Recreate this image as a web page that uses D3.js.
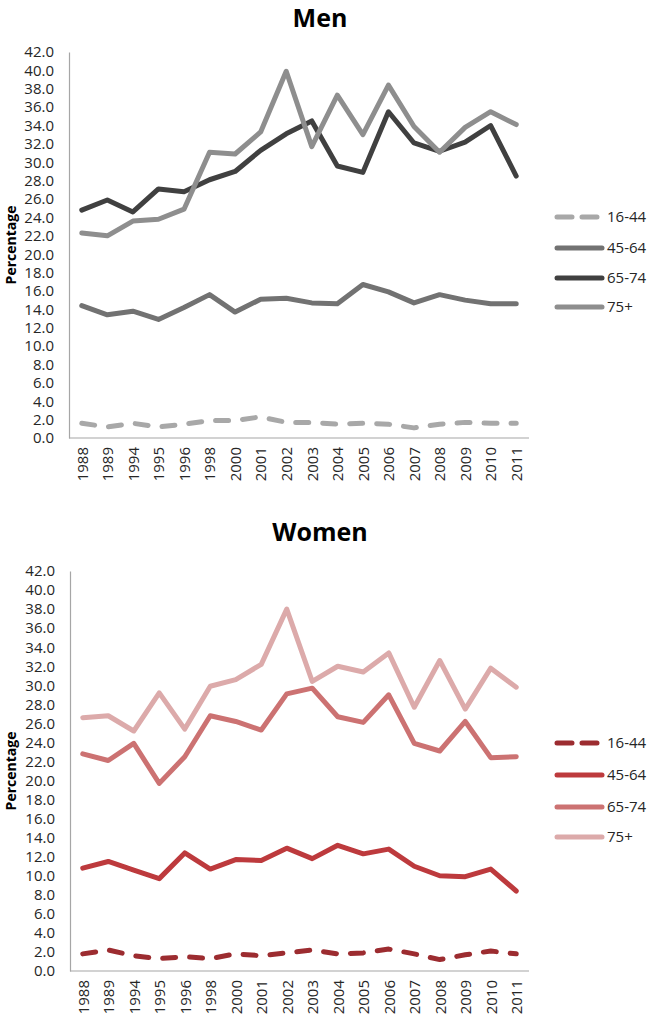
<!DOCTYPE html>
<html>
<head>
<meta charset="utf-8">
<script src="https://cdn.jsdelivr.net/npm/d3@7"></script>
<style>
  html, body { margin: 0; padding: 0; background: #fff; }
  svg { display: block; font-family: "Open Sans", "Liberation Sans", sans-serif; }
</style>
</head>
<body>
<svg id="chart" width="650" height="1019"></svg>
<script>
const years = ["1988","1989","1994","1995","1996","1998","2000","2001","2002","2003","2004","2005","2006","2007","2008","2009","2010","2011"];
const seriesNames = ["16-44","45-64","65-74","75+"];
const yTicks = [0,2,4,6,8,10,12,14,16,18,20,22,24,26,28,30,32,34,36,38,40,42];

// Men
const men_16_44 = [1.6,1.2,1.6,1.2,1.5,1.9,1.9,2.3,1.7,1.7,1.5,1.6,1.5,1.1,1.5,1.7,1.6,1.6];
const men_45_64 = [14.4,13.4,13.8,12.9,14.2,15.6,13.7,15.1,15.2,14.7,14.6,16.7,15.9,14.7,15.6,15.0,14.6,14.6];
const men_65_74 = [24.8,25.9,24.6,27.1,26.8,28.1,29.0,31.3,33.1,34.5,29.6,28.9,35.5,32.1,31.2,32.2,34.0,28.5];
const men_75p   = [22.3,22.0,23.6,23.8,24.9,31.1,30.9,33.3,39.9,31.7,37.3,33.0,38.4,33.9,31.1,33.8,35.5,34.1];

// Women
const women_16_44 = [1.8,2.2,1.6,1.3,1.5,1.3,1.8,1.6,1.9,2.2,1.8,1.9,2.3,1.8,1.2,1.7,2.1,1.8];
const women_45_64 = [10.8,11.5,10.6,9.7,12.4,10.7,11.7,11.6,12.9,11.8,13.2,12.3,12.8,11.0,10.0,9.9,10.7,8.4];
const women_65_74 = [22.8,22.1,23.9,19.7,22.5,26.8,26.2,25.3,29.1,29.7,26.7,26.1,29.0,23.9,23.1,26.2,22.4,22.5];
const women_75p   = [26.6,26.8,25.2,29.2,25.4,29.9,30.6,32.2,38.0,30.4,32.0,31.4,33.4,27.7,32.6,27.5,31.8,29.8];

const menColors   = ["#a8a8a8","#727272","#404040","#8e8e8e"];
const womenColors = ["#9c2c30","#bd3a3d","#cc7272","#dcaaaa"];

const svg = d3.select("#chart");

function drawPanel(opt) {
  const g = svg.append("g");
  const x = d3.scalePoint().domain(years).range([opt.left, opt.right]).padding(0.5);
  const y = d3.scaleLinear().domain([0, 42]).range([opt.bottom, opt.top]);

  // title
  g.append("text").attr("x", 320).attr("y", opt.titleY)
    .attr("text-anchor", "middle").attr("font-size", 25).attr("font-weight", "bold")
    .attr("fill", "#000").text(opt.title);

  // y axis
  const ya = g.append("g").attr("transform", `translate(${opt.left},0)`)
    .call(d3.axisLeft(y).tickValues(yTicks).tickFormat(d3.format(".1f")).tickSize(0).tickPadding(15));
  ya.select(".domain").attr("stroke", "#a6a6a6").attr("stroke-width", 1.2);
  ya.selectAll("text").attr("font-size", 15).attr("fill", "#262626")
    .attr("font-family", "'Open Sans', sans-serif");

  // x axis
  const xa = g.append("g").attr("transform", `translate(0,${opt.bottom})`)
    .call(d3.axisBottom(x).tickSize(0).tickPadding(0));
  xa.select(".domain").attr("stroke", "#a6a6a6").attr("stroke-width", 1.2)
    .attr("d", `M${opt.left},0H${opt.right}`);
  xa.selectAll("text").attr("font-size", 15).attr("fill", "#262626")
    .attr("font-family", "'Open Sans', sans-serif")
    .attr("text-anchor", "end").attr("dy", "0.35em")
    .attr("transform", "translate(0,9) rotate(-90)").attr("x", 0).attr("y", 0);

  // y label
  g.append("text")
    .attr("transform", `translate(16,${(opt.top + opt.bottom) / 2}) rotate(-90)`)
    .attr("text-anchor", "middle").attr("font-size", 14).attr("font-weight", "bold")
    .attr("fill", "#000").text("Percentage");

  const line = d3.line().x((d, i) => x(years[i])).y(d => y(d));

  opt.series.forEach((vals, k) => {
    g.append("path").datum(vals)
      .attr("d", line)
      .attr("fill", "none")
      .attr("stroke", opt.colors[k])
      .attr("stroke-width", 5)
      .attr("stroke-linejoin", "round")
      .attr("stroke-linecap", "round")
      .attr("stroke-dasharray", k === 0 ? "13,14" : null);
  });

  // legend
  seriesNames.forEach((name, k) => {
    const ly = opt.legendY[k];
    g.append("line")
      .attr("x1", 557).attr("x2", 602).attr("y1", ly).attr("y2", ly)
      .attr("stroke", opt.colors[k]).attr("stroke-width", 5)
      .attr("stroke-linecap", "round")
      .attr("stroke-dasharray", k === 0 ? "15,10" : null);
    g.append("text").attr("x", 607).attr("y", ly).attr("dy", "0.35em")
      .attr("font-size", 15).attr("fill", "#262626").text(name);
  });
}

drawPanel({
  title: "Men", titleY: 27,
  left: 69, right: 529, top: 52, bottom: 438,
  series: [men_16_44, men_45_64, men_65_74, men_75p],
  colors: menColors,
  legendY: [217, 248, 278, 307]
});

drawPanel({
  title: "Women", titleY: 541,
  left: 70, right: 529, top: 571, bottom: 971,
  series: [women_16_44, women_45_64, women_65_74, women_75p],
  colors: womenColors,
  legendY: [743, 775, 807, 837]
});
</script>
</body>
</html>
